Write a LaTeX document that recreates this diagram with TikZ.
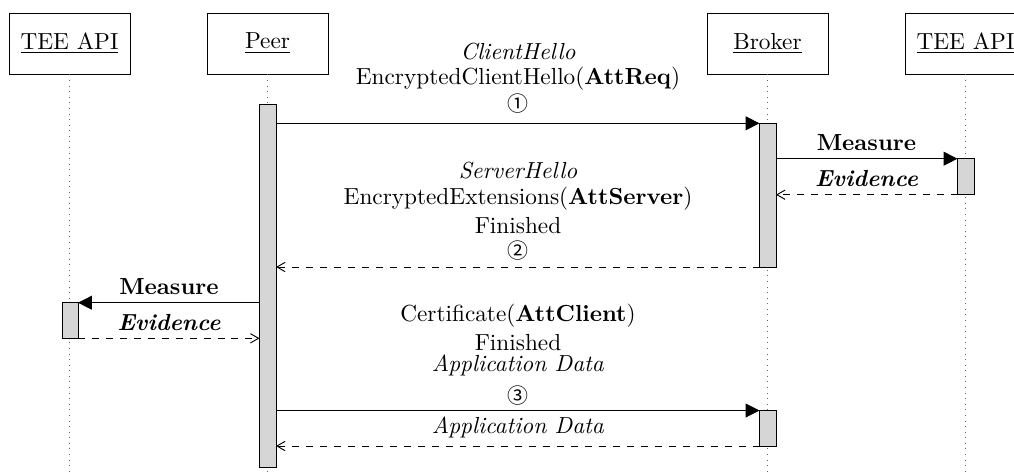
\documentclass[tikz,border=0pt]{standalone}
\usepackage{fontspec}
\newfontfamily\circfont{Noto Sans CJK SC}
\usetikzlibrary{arrows.meta}
\begin{document}
\begin{tikzpicture}[x=0.43pt,y=-0.43pt,
  inst/.style={draw,inner sep=0pt,minimum width=52.03pt,minimum height=26.23pt,font=\fontsize{10}{12}\selectfont},
  life/.style={black!60,dotted},
  actbar/.style={draw,fill=black!16},
  lbl/.style={inner sep=0pt,anchor=base,font=\fontsize{10}{12}\selectfont},
  num/.style={inner sep=0pt,anchor=center,font=\circfont\fontsize{9}{10}\selectfont},
  call/.style={-{Triangle[length=6pt,width=6pt]}},
  reply/.style={dashed,-{Straight Barb[length=3.5pt,width=4pt]}}]
\useasboundingbox (0,0) rectangle (1014,473);
% instances
\node[inst] (tee1) at (69.5,43.5) {\underline{TEE API}};
\node[inst] (peer) at (267.5,43.5) {\underline{Peer}};
\node[inst] (broker) at (767.5,43.5) {\underline{Broker}};
\node[inst] (tee2) at (965.5,43.5) {\underline{TEE API}};
% lifelines
\coordinate (tee1end) at (69.5,473);
\coordinate (peerend) at (267.5,473);
\coordinate (brokerend) at (767.5,473);
\coordinate (tee2end) at (965.5,473);
\draw[life] (tee1.south) -- (tee1end);
\draw[life] (peer.south) -- (peerend);
\draw[life] (broker.south) -- (brokerend);
\draw[life] (tee2.south) -- (tee2end);
% activation bars
\draw[actbar] (259.5,104) rectangle (276,467);
\draw[actbar] (759.5,123.3) rectangle (776,267);
\draw[actbar] (957.5,158.7) rectangle (974,194.7);
\draw[actbar] (62,302.7) rectangle (78,338.3);
\draw[actbar] (759.5,410.5) rectangle (776,446);
% message end points
\coordinate (m1a) at (276,123.3);   \coordinate (m1b) at (759.5,123.3);
\coordinate (m2a) at (776,158.7);   \coordinate (m2b) at (957.5,158.7);
\coordinate (m3a) at (957.5,194.7); \coordinate (m3b) at (776,194.7);
\coordinate (m4a) at (759.5,267);   \coordinate (m4b) at (276,267);
\coordinate (m5a) at (259.5,302.7); \coordinate (m5b) at (78,302.7);
\coordinate (m6a) at (78,338.3);    \coordinate (m6b) at (259.5,338.3);
\coordinate (m7a) at (276,410.5);   \coordinate (m7b) at (759.5,410.5);
\coordinate (m8a) at (759.5,446);   \coordinate (m8b) at (276,446);
% messages
\draw[call] (m1a) -- (m1b);
\draw[call] (m2a) -- (m2b);
\draw[reply] (m3a) -- (m3b);
\draw[reply] (m4a) -- (m4b);
\draw[call] (m5a) -- (m5b);
\draw[reply] (m6a) -- (m6b);
\draw[call] (m7a) -- (m7b);
\draw[reply] (m8a) -- (m8b);
% labels
\node[lbl] (l1a) at (518,59.3) {\textit{ClientHello}};
\node[lbl] (l1b) at (518,84) {EncryptedClientHello(\textbf{AttReq})};
\node[num] (l1c) at (518,104) {①};
\node[lbl] (l2) at (866.5,150.7) {\textbf{Measure}};
\node[lbl] (l3) at (866.5,186.7) {\textbf{\textit{Evidence}}};
\node[lbl] (l4a) at (518,178.3) {\textit{ServerHello}};
\node[lbl] (l4b) at (518,204.3) {EncryptedExtensions(\textbf{AttServer})};
\node[lbl] (l4c) at (518,233.3) {Finished};
\node[num] (l4d) at (518,250.5) {②};
\node[lbl] (l5) at (169,294) {\textbf{Measure}};
\node[lbl] (l6) at (169,330) {\textbf{\textit{Evidence}}};
\node[lbl] (l7a) at (518,321.7) {Certificate(\textbf{AttClient})};
\node[lbl] (l7b) at (518,350) {Finished};
\node[lbl] (l7c) at (518,371.7) {\textit{Application Data}};
\node[num] (l7d) at (518,396) {③};
\node[lbl] (l8) at (518,433.3) {\textit{Application Data}};
\end{tikzpicture}
\end{document}
